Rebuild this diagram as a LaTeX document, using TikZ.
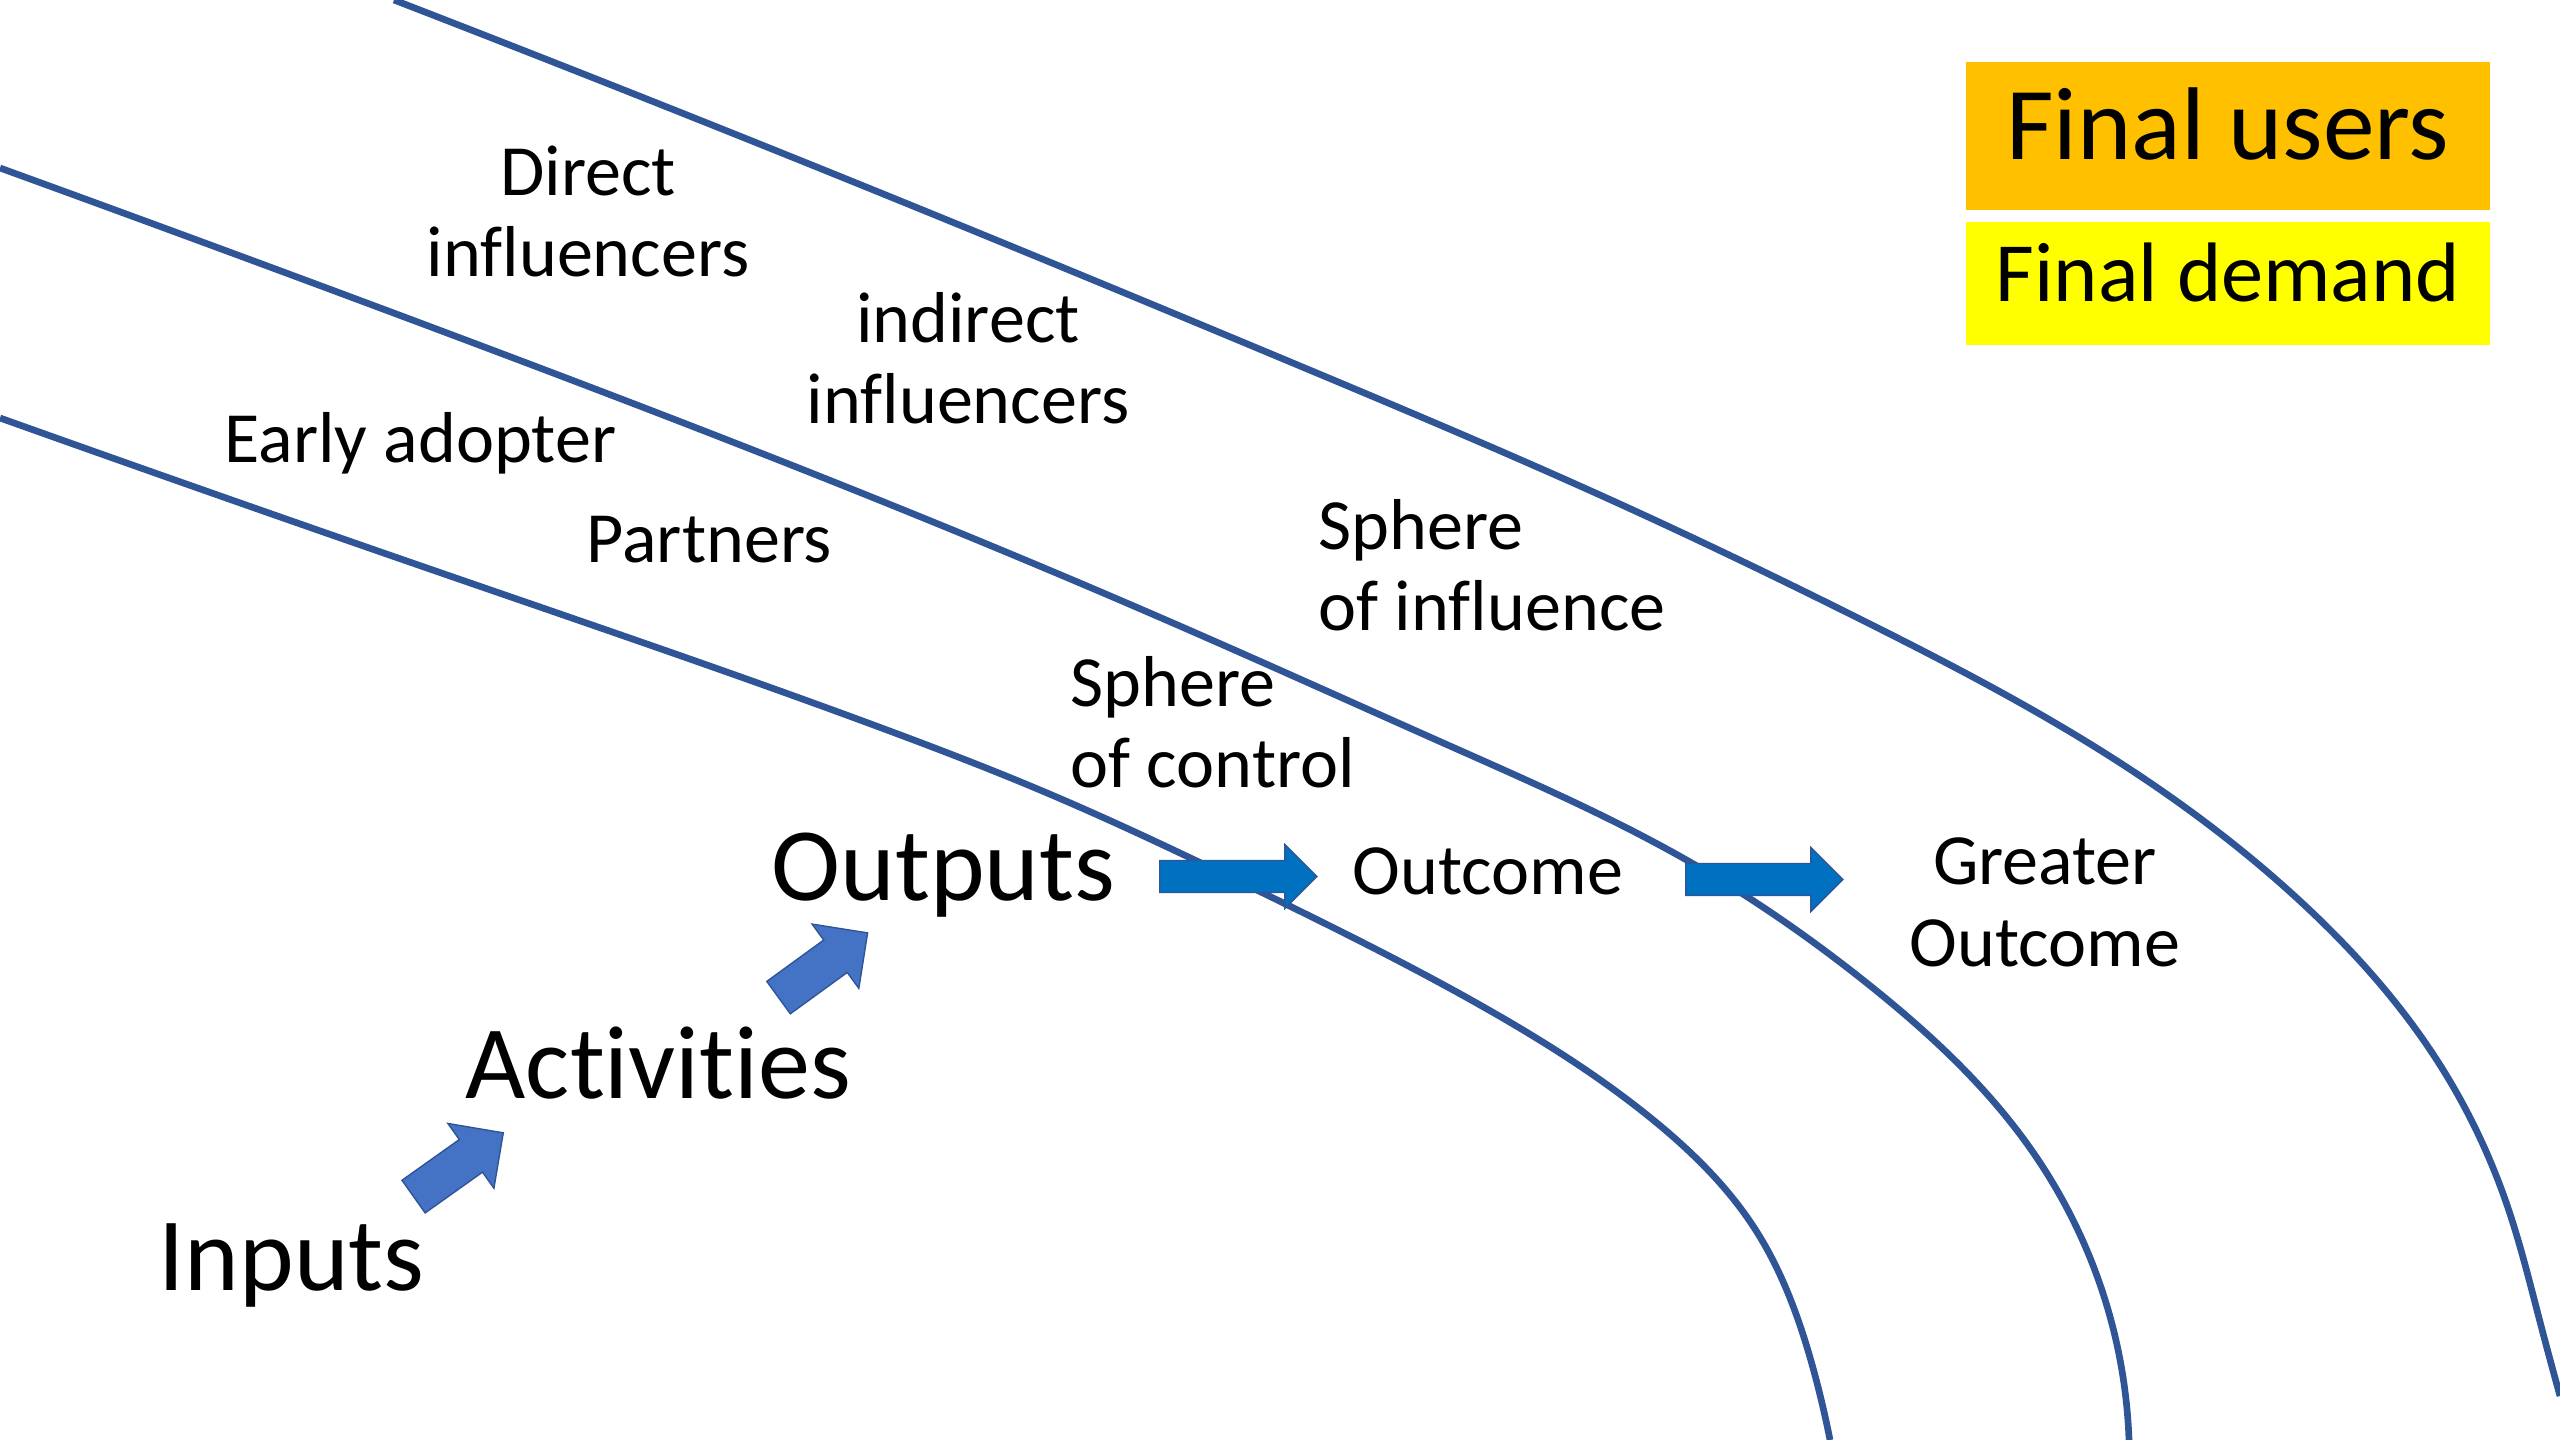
\documentclass[tikz,border=0pt]{standalone}
\usepackage{fontspec}
\setmainfont{Carlito}[Ligatures=NoCommon]
\usetikzlibrary{shapes.arrows,hobby}
\definecolor{lineblue}{HTML}{2F5597}
\definecolor{stepblue}{HTML}{4472C4}
\definecolor{flowblue}{HTML}{0070C0}
\definecolor{usersorange}{HTML}{FFC000}
\definecolor{demandyellow}{HTML}{FFFF00}

\begin{document}
\begin{tikzpicture}[x=0.01cm,y=-0.01cm]
    \tikzstyle{big}=[inner sep=0pt,font=\fontsize{29.6}{35}\selectfont]
    \tikzstyle{small}=[inner sep=0pt,font=\fontsize{20.5}{23.2}\selectfont]
    \tikzstyle{sphere}=[draw=lineblue,line width=1.9pt,use Hobby shortcut]
    \tikzstyle{stepup}=[single arrow,draw=lineblue,fill=stepblue,line width=0.4pt,inner xsep=0pt,inner ysep=0.193cm,
      minimum width=0.78cm,single arrow head extend=0.197cm,minimum height=1.1cm,anchor=tail]
    \tikzstyle{flow}=[single arrow,draw=lineblue,fill=flowblue,line width=0.4pt,inner xsep=0pt,inner ysep=0.1525cm,
      minimum width=0.625cm,single arrow head extend=0.16cm,minimum height=1.57cm,anchor=tail]
    \useasboundingbox (0,0) rectangle (2560,1440);
    % spheres
    \draw[sphere] (0,418) .. (450,576) .. (887,730) .. (1040,790) .. (1265,894) .. (1480,1005)
      .. (1652,1119) .. (1755,1229) .. (1813,1368) .. (1830,1440);
    \draw[sphere] (0,168) .. (415,321) .. (829,480) .. (1166,620) .. (1450,746) .. (1690,862)
      .. (1868,984) .. (2030,1148) .. (2114,1332) .. (2129,1440);
    \draw[sphere] (394,0) .. (829,172) .. (1300,366) .. (1622,505) .. (1860,619) .. (2128,768)
      .. (2300,901) .. (2440,1065) .. (2507,1205) .. (2539,1318) .. (2560,1396);
    % labels
    \node[small,align=center,anchor=base] (direct) at (588,277) {Direct\\influencers};
    \node[small,align=center,anchor=base] (indirect) at (968,424) {indirect\\influencers};
    \node[small,anchor=base west] (early) at (224,463) {Early adopter};
    \node[small,anchor=base west] (partners) at (586,563) {Partners};
    \node[small,align=left,anchor=base west] (influence) at (1318,631) {Sphere\\of influence};
    \node[small,align=left,anchor=base west] (control) at (1070,788) {Sphere\\of control};
    \node[big,anchor=base west] (inputs) at (158,1290) {Inputs};
    \node[big,anchor=base west] (activities) at (465,1098) {Activities};
    \node[big,anchor=base west] (outputs) at (771,901) {Outputs};
    \node[small,anchor=base west] (outcome) at (1352,894) {Outcome};
    \node[small,align=center,anchor=base] (greater) at (2045,966) {Greater\\Outcome};
    % final users and demand
    \node[fill=usersorange,inner sep=0pt,minimum width=5.24cm,text height=0.98cm,text depth=0.5cm,
      font=\fontsize{29.4}{35}\selectfont,anchor=base] (users) at (2228,160) {Final users};
    \node[fill=demandyellow,inner sep=0pt,minimum width=5.24cm,text height=0.797cm,text depth=0.428cm,
      font=\fontsize{24}{29}\selectfont,anchor=base] (demand) at (2228,302) {Final demand};
    % arrows
    \node[stepup,rotate=35.4] (up_1) at (413,1197) {};
    \node[stepup,rotate=36] (up_2) at (778,998) {};
    \node[flow] (flow_1) at (1159,876.5) {};
    \node[flow] (flow_2) at (1685,879.5) {};
\end{tikzpicture}
\end{document}
